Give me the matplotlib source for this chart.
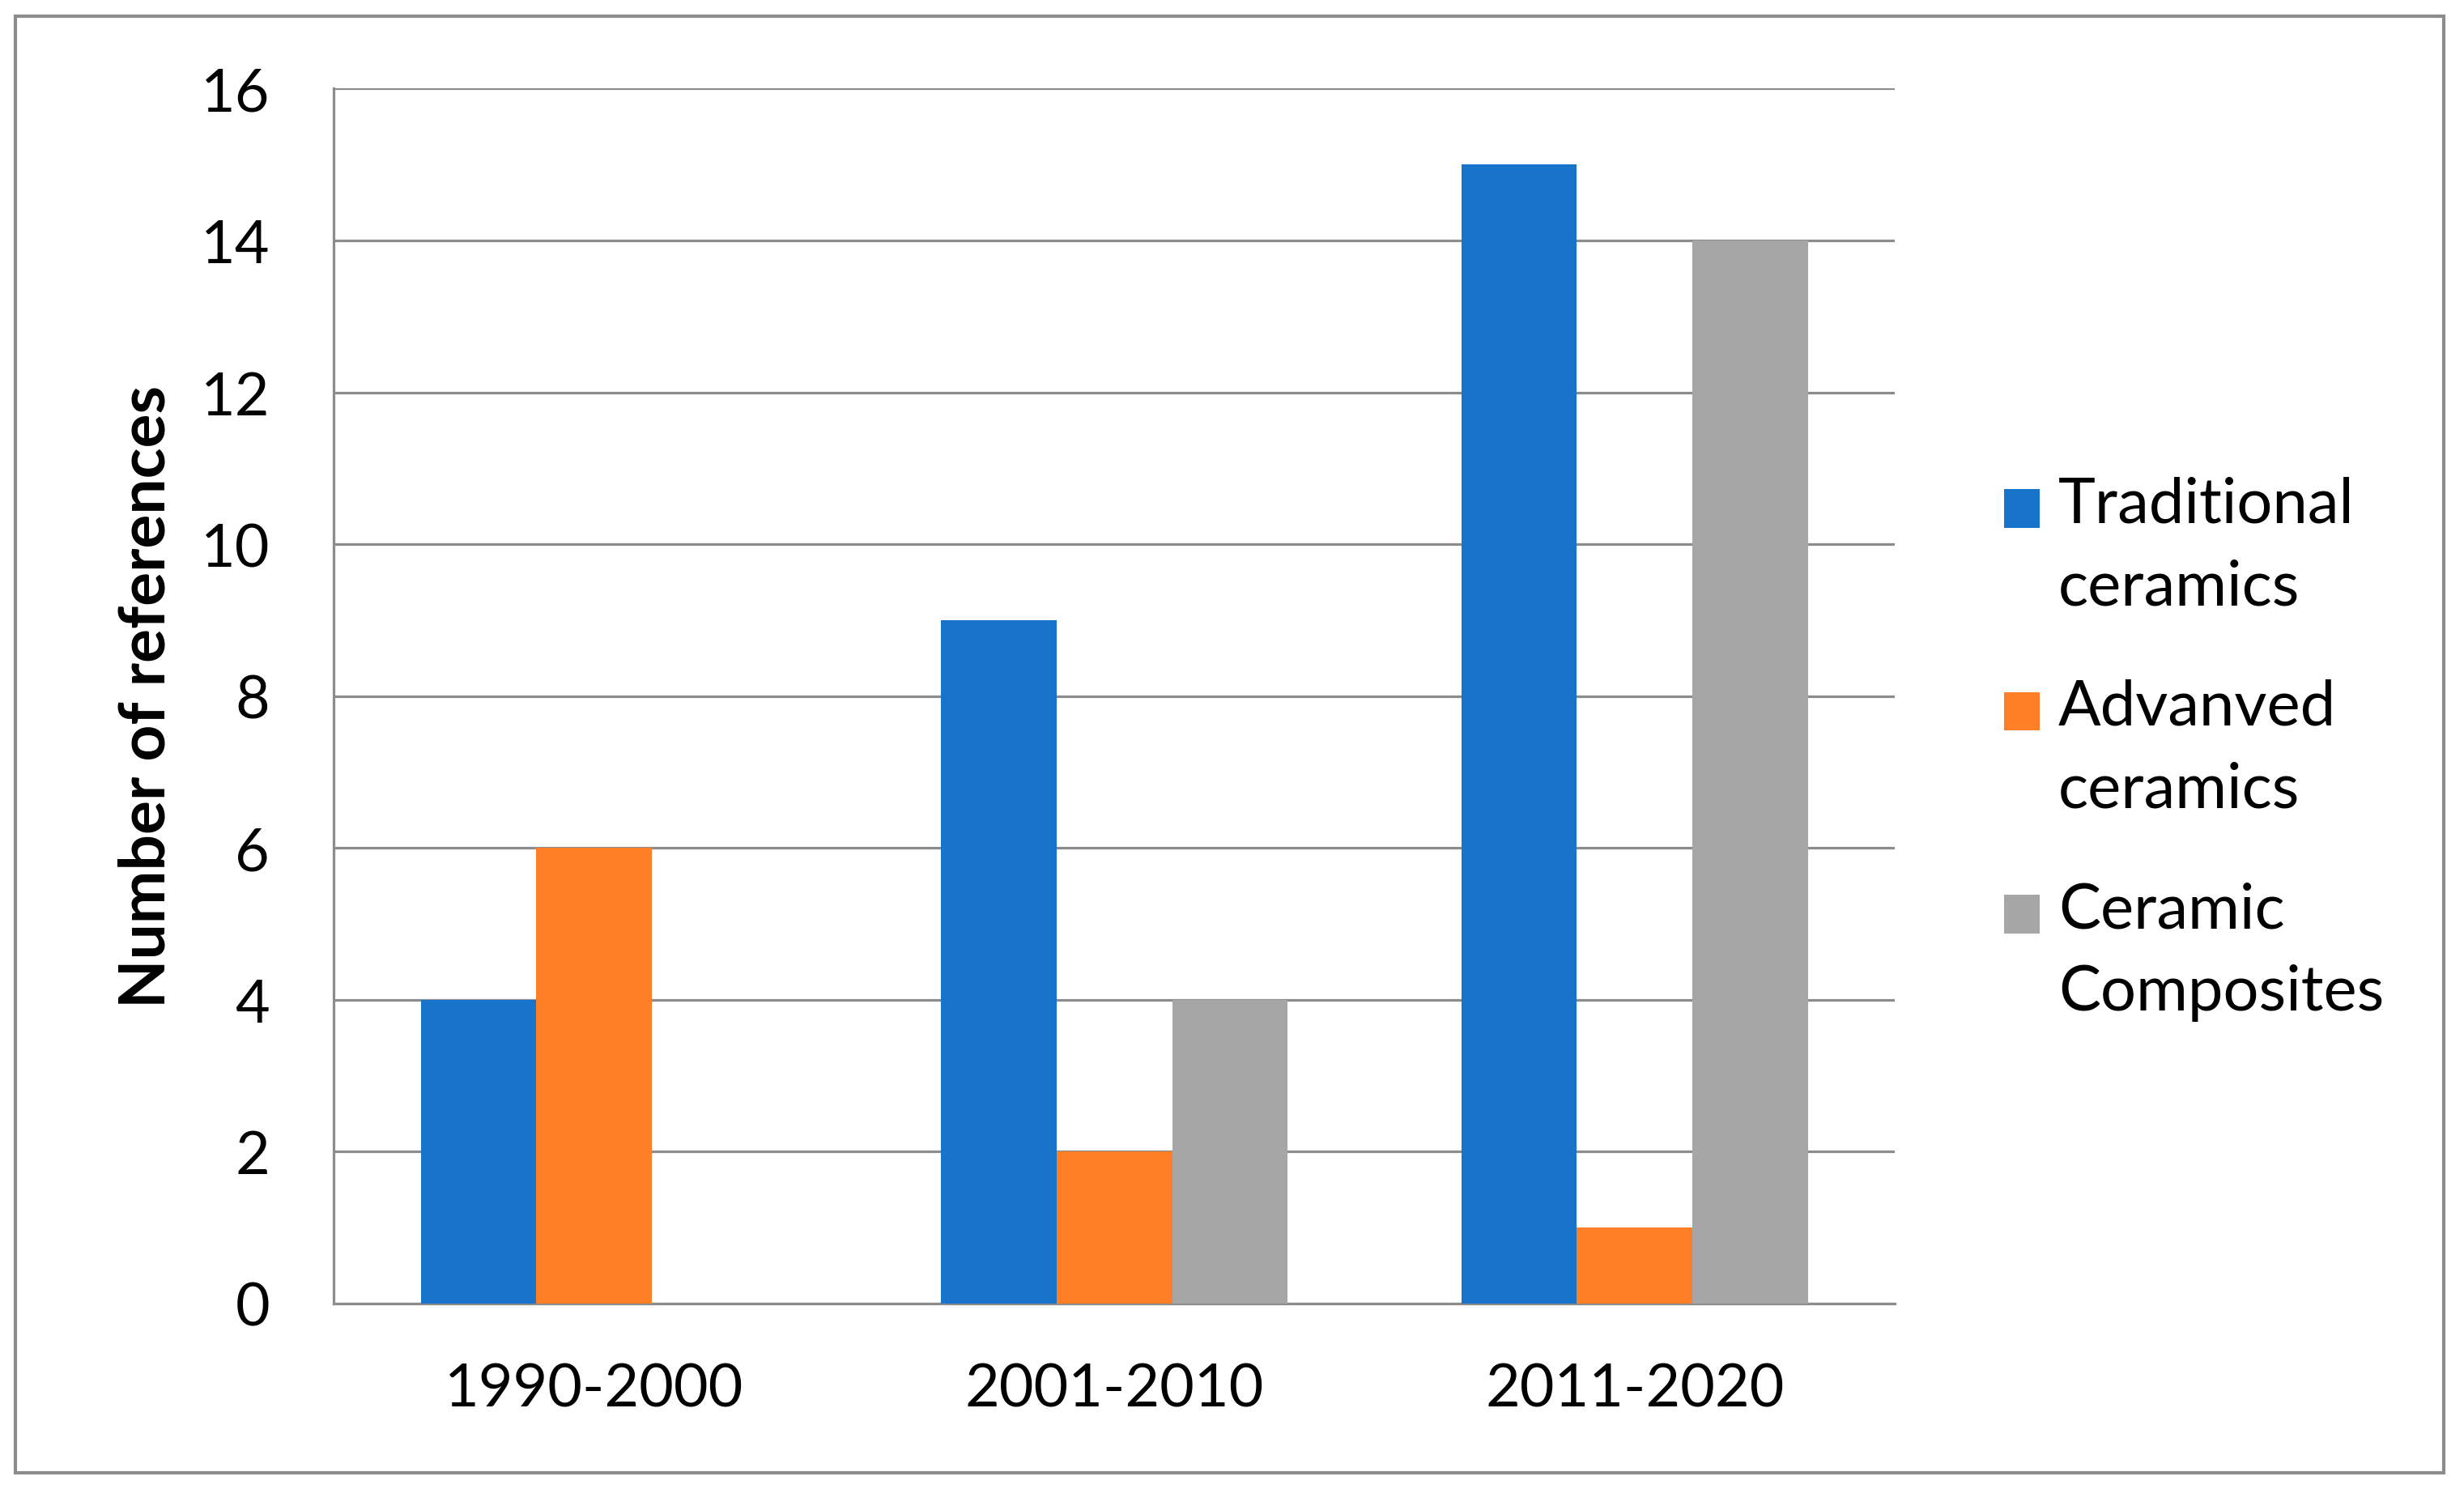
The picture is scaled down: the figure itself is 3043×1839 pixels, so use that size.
import numpy as np
import matplotlib
matplotlib.use('Agg')
import matplotlib.pyplot as plt
from matplotlib.patches import Rectangle
from matplotlib.legend_handler import HandlerPatch

periods = ['1990-2000', '2001-2010', '2011-2020']
series_names = ['Traditional\nceramics', 'Advanved\nceramics', 'Ceramic\nComposites']
traditional = [4, 9, 15]
advanced = [6, 2, 1]
composites = [0, 4, 14]
colors = ['#1874CB', '#FF7F27', '#A6A6A6']
y_ticks = [0, 2, 4, 6, 8, 10, 12, 14, 16]

plt.rcParams['font.family'] = ['Lato', 'DejaVu Sans']
grid_color = '#8C8C8C'
leg_size = 56


# square handle sitting next to the first line of a two-line label
def top_square(legend, orig_handle, xdescent, ydescent, width, height, fontsize):
    return Rectangle((-xdescent, -ydescent + 0.6 * fontsize), width, height)


fig = plt.figure(figsize=(30.43, 18.4), dpi=100)
ax = fig.add_axes([0.1355, 0.1245, 0.6335, 0.8155])

x = np.arange(len(periods))
w = 0.222
bars = []
for i, (vals, name) in enumerate(zip([traditional, advanced, composites], series_names)):
    bars.append(ax.bar(x + (i - 1) * w, vals, width=w, color=colors[i], label=name, zorder=3))

ax.set_xlim(-0.5, 2.5)
ax.set_ylim(0, 16)
ax.set_yticks(y_ticks)
ax.set_xticks(x)
ax.set_xticklabels(periods)
ax.tick_params(axis='both', length=0, labelsize=53)
ax.tick_params(axis='y', pad=57)
ax.tick_params(axis='x', pad=52)
ax.yaxis.grid(True, color=grid_color, linewidth=2.3, zorder=0)
ax.set_axisbelow(True)
for s in ['top', 'right']:
    ax.spines[s].set_visible(False)
for s in ['left', 'bottom']:
    ax.spines[s].set_color(grid_color)
    ax.spines[s].set_linewidth(2.3)

ax.set_ylabel('Number of references', fontsize=56.5, fontweight='bold', labelpad=22)

handles = [b.patches[0] for b in bars]
leg = ax.legend(handles, series_names, loc='center left', bbox_to_anchor=(1.070, 0.457),
                frameon=False, fontsize=leg_size, handlelength=0.56, handleheight=0.56,
                handletextpad=0.3, labelspacing=1.0, borderaxespad=0, borderpad=0,
                handler_map={h: HandlerPatch(patch_func=top_square) for h in handles})
for t in leg.get_texts():
    t.set_linespacing(1.54)

fig.patches.append(Rectangle((0.0062, 0.0109), 0.9856, 0.9777, transform=fig.transFigure,
                             fill=False, edgecolor=grid_color, linewidth=3, zorder=-1))

fig.savefig('out.png', dpi=100)
